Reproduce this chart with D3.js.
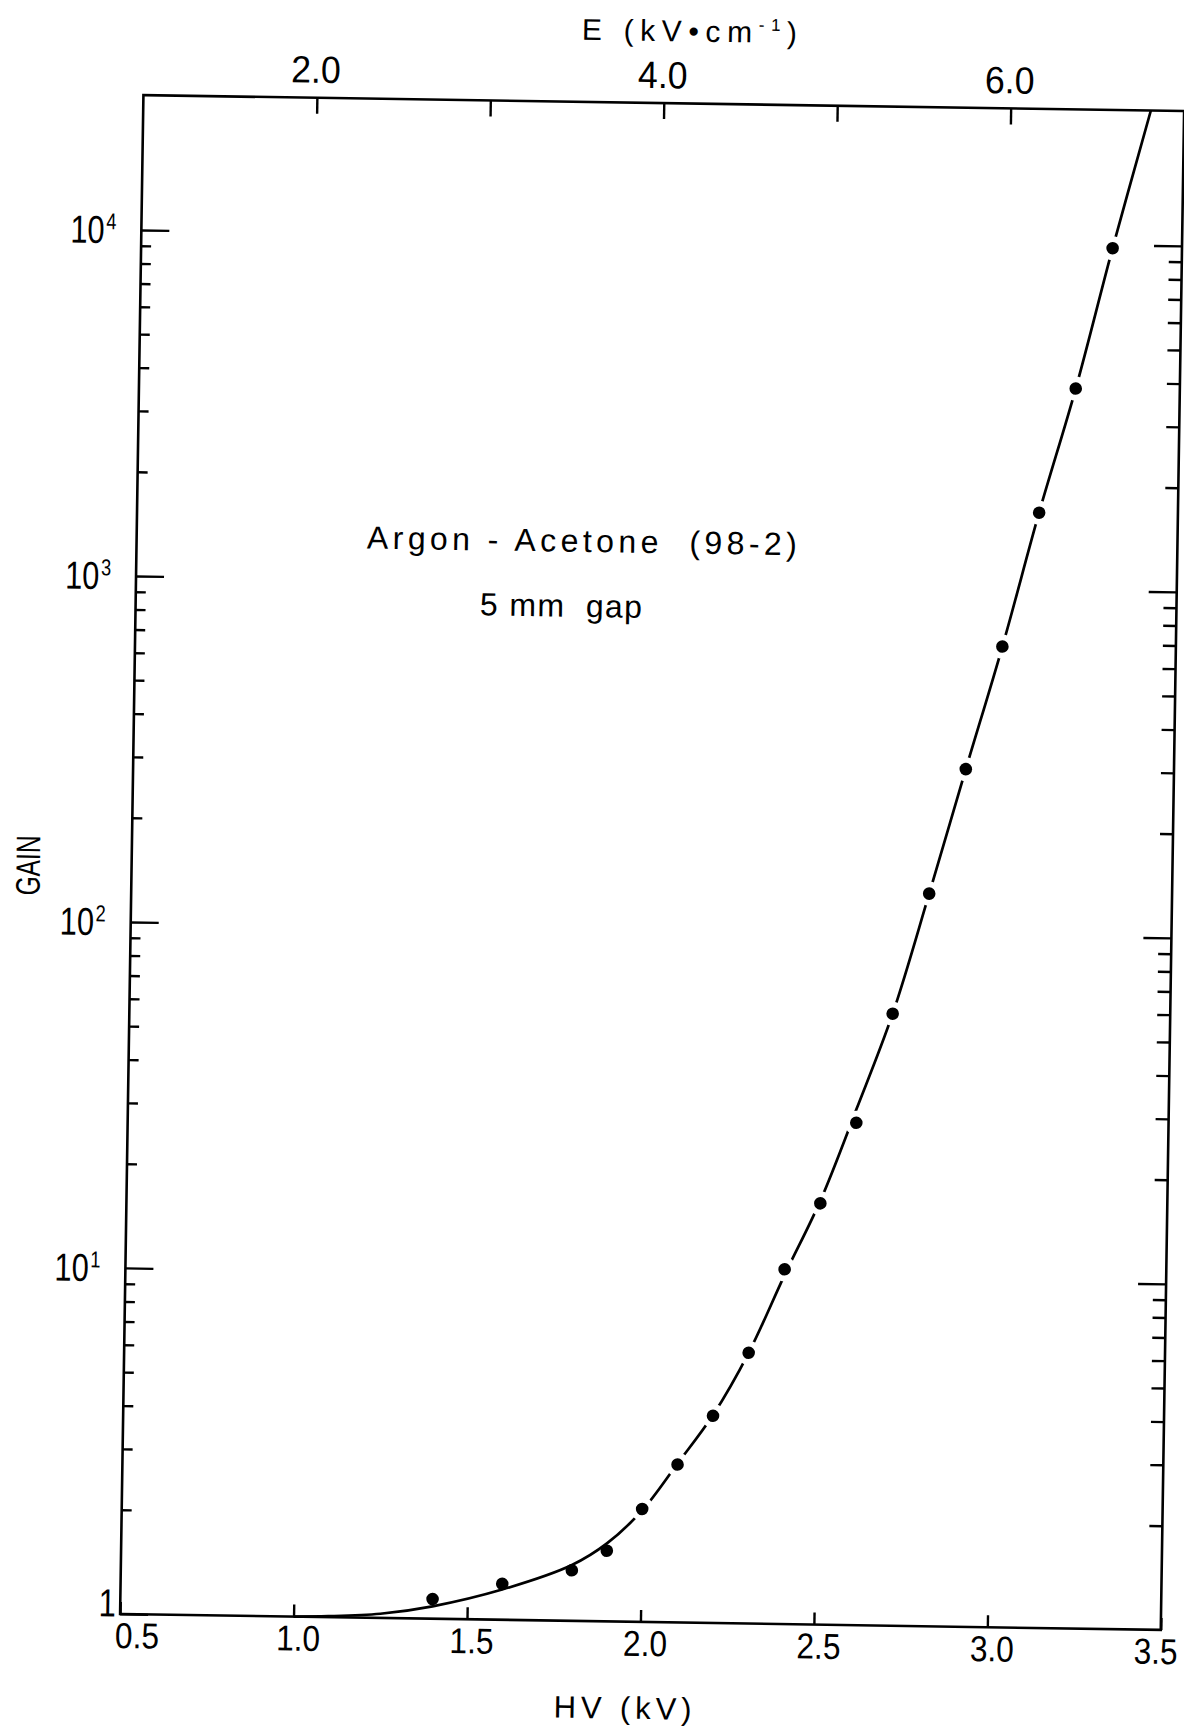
<!DOCTYPE html>
<html><head><meta charset="utf-8">
<script src="https://cdn.jsdelivr.net/npm/d3@7"></script>
<style>
html,body{margin:0;padding:0;background:#fff;}
svg{display:block;}
text{font-family:"Liberation Sans",Arial,sans-serif;fill:#000;}
</style></head><body>
<svg id="chart" width="1184" height="1731"></svg>
<script>
// ---- data ----
const hvData   = [1.4, 1.6, 1.8, 1.9, 2.0, 2.1, 2.2, 2.3, 2.4, 2.5, 2.6, 2.7, 2.8, 2.9, 3.0, 3.1, 3.2, 3.3];
const gainData = [1.14, 1.27, 1.40, 1.60, 2.12, 2.86, 3.97, 6.06, 10.6, 16.5, 28.3, 58.7, 131, 301, 683, 1670, 3830, 9780];
const fitHV    = [1.0, 1.1, 1.25, 1.4, 1.6, 1.8, 1.9, 2.0, 2.1, 2.2, 2.3, 2.4, 2.5, 2.6, 2.7, 2.8, 2.9, 3.0, 3.1, 3.2, 3.3, 3.404];
const fitGain  = [1.0, 1.006, 1.028, 1.086, 1.223, 1.45, 1.68, 2.1, 2.88, 3.99, 6.06, 10.2, 16.8, 31, 58.7, 131, 301, 683, 1673, 3830, 9780, 24500];
const hvTicks  = [0.5, 1.0, 1.5, 2.0, 2.5, 3.0, 3.5];
const eTicks   = [2, 3, 4, 5, 6];
const eLabels  = [2, 4, 6];
const gainDecades = [1, 10, 100, 1000, 10000];
const minorMult = [2, 3, 4, 5, 6, 7, 8, 9];
const hvDomain = [0.5, 3.5];
const gainDomain = [1, 24530];
const annotation1 = "Argon - Acetone  (98-2)";
const annotation2 = "5 mm  gap";

// ---- layout ----
const m = {left: 131.7, right: 1172.5, top: 103, bottom: 1622};
const tilt = 0.88, cx = 652, cy = 862.5;   // scanned page is slightly rotated
const FONT = '"Liberation Sans",Arial,sans-serif';

const svg = d3.select("#chart");
svg.append("rect").attr("width", 1184).attr("height", 1731).attr("fill", "#fff");
const root = svg.append("g").attr("transform", `rotate(${tilt} ${cx} ${cy})`);

const x  = d3.scaleLinear().domain(hvDomain).range([m.left, m.right]);
const xE = d3.scaleLinear().domain(hvDomain.map(v => v * 2)).range([m.left, m.right]); // E = HV / 0.5 cm
const y  = d3.scaleLog().domain(gainDomain).range([m.bottom, m.top]);

const fmt1 = d3.format(".1f");
const minorTicks = gainDecades.slice(0, -1).flatMap(d => minorMult.map(k => k * d));

function styleAxis(g, fs) {
  g.select(".domain").remove();
  g.selectAll(".tick line").attr("stroke", "#000").attr("stroke-width", 2.4);
  g.selectAll(".tick text").attr("font-size", fs).attr("font-family", FONT).attr("fill", "#000");
}
function condense(sel, k) {
  sel.each(function() {
    const t = d3.select(this);
    const xv = +t.attr("x") || 0;
    t.attr("x", xv / k).attr("transform", `scale(${k},1)`);
  });
}

// bottom axis (HV)
const gB = root.append("g").attr("transform", `translate(0,${m.bottom})`)
  .call(d3.axisBottom(x).tickValues(hvTicks).tickSize(-12).tickPadding(8.5).tickFormat(fmt1));
styleAxis(gB, 36);
gB.selectAll(".tick text").attr("dx", d => d === hvTicks[0] ? 19 : (d === hvTicks[hvTicks.length - 1] ? -6 : 5));
condense(gB.selectAll(".tick text"), 0.88);

// top axis (E)
const gT = root.append("g").attr("transform", `translate(0,${m.top})`)
  .call(d3.axisTop(xE).tickValues(eTicks).tickSize(-16).tickPadding(15)
    .tickFormat(d => eLabels.includes(d) ? fmt1(d) : ""));
styleAxis(gT, 38);
gT.selectAll(".tick text").attr("dx", -2);
condense(gT.selectAll(".tick text"), 0.94);

// left axis (gain)
const gLm = root.append("g").attr("transform", `translate(${m.left},0)`)
  .call(d3.axisLeft(y).tickValues(minorTicks).tickSize(-10).tickFormat(""));
styleAxis(gLm, 38);
const gL = root.append("g").attr("transform", `translate(${m.left},0)`)
  .call(d3.axisLeft(y).tickValues(gainDecades).tickSize(-28).tickPadding(25).tickFormat(""));
styleAxis(gL, 39);
gL.selectAll(".tick text").each(function(d) {
  const t = d3.select(this).text(null);
  const p = Math.round(Math.log10(d));
  t.attr("dy", "0.34em");
  if (p === 0) {
    t.attr("y", -11).attr("dx", 26).text("1");
  } else {
    t.append("tspan").text("10");
    t.append("tspan").attr("font-size", 23).attr("dy", "-0.6em").attr("dx", 2).text(p);
  }
});
condense(gL.selectAll(".tick text"), 0.79);

// right axis ticks
const gRm = root.append("g").attr("transform", `translate(${m.right},0)`)
  .call(d3.axisRight(y).tickValues(minorTicks).tickSize(-13).tickFormat(""));
styleAxis(gRm, 36);
const gR = root.append("g").attr("transform", `translate(${m.right},0)`)
  .call(d3.axisRight(y).tickValues(gainDecades.slice(1)).tickSize(-28).tickFormat(""));
styleAxis(gR, 36);

// frame
root.append("rect").attr("x", m.left).attr("y", m.top)
  .attr("width", m.right - m.left).attr("height", m.bottom - m.top)
  .attr("fill", "none").attr("stroke", "#000").attr("stroke-width", 2.6);

// fitted curve
const fit = fitHV.map((h, i) => ({hv: h, g: fitGain[i]}));
root.append("path").datum(fit)
  .attr("d", d3.line().x(d => x(d.hv)).y(d => y(d.g)).curve(d3.curveCatmullRom.alpha(0.5)))
  .attr("fill", "none").attr("stroke", "#000").attr("stroke-width", 2.7);

// data points (line broken around the points on the steep part)
const pts = hvData.map((h, i) => ({hv: h, g: gainData[i]}));
root.append("g").selectAll("circle.halo").data(pts.filter(d => d.hv >= 2.0)).join("circle")
  .attr("class", "halo").attr("cx", d => x(d.hv)).attr("cy", d => y(d.g)).attr("r", 12).attr("fill", "#fff");
root.append("g").selectAll("circle.pt").data(pts).join("circle")
  .attr("class", "pt").attr("cx", d => x(d.hv)).attr("cy", d => y(d.g)).attr("r", 6.3).attr("fill", "#000");

// axis titles
root.append("text").attr("x", 635.6).attr("y", 1719).attr("text-anchor", "middle")
  .attr("font-size", 31).attr("textLength", 138).attr("lengthAdjust", "spacing")
  .style("white-space", "pre").text("HV (kV)");

const eT = root.append("text").attr("x", 680).attr("y", 41).attr("text-anchor", "middle")
  .attr("font-size", 30).attr("letter-spacing", 6.6).style("white-space", "pre");
eT.append("tspan").text("E (kV\u2022cm");
eT.append("tspan").attr("font-size", 17).attr("dy", -12).text("-1");
eT.append("tspan").attr("dy", 12).text(")");

root.append("text").attr("transform", "translate(40,875) rotate(-90)")
  .attr("text-anchor", "middle").attr("font-size", 34)
  .attr("textLength", 60).attr("lengthAdjust", "spacingAndGlyphs").text("GAIN");

// annotations
root.append("text").attr("x", 362).attr("y", 553).attr("font-size", 32)
  .attr("textLength", 430).attr("lengthAdjust", "spacing").style("white-space", "pre").text(annotation1);
root.append("text").attr("x", 476).attr("y", 618).attr("font-size", 32)
  .attr("textLength", 162).attr("lengthAdjust", "spacing").style("white-space", "pre").text(annotation2);
</script>
</body></html>
